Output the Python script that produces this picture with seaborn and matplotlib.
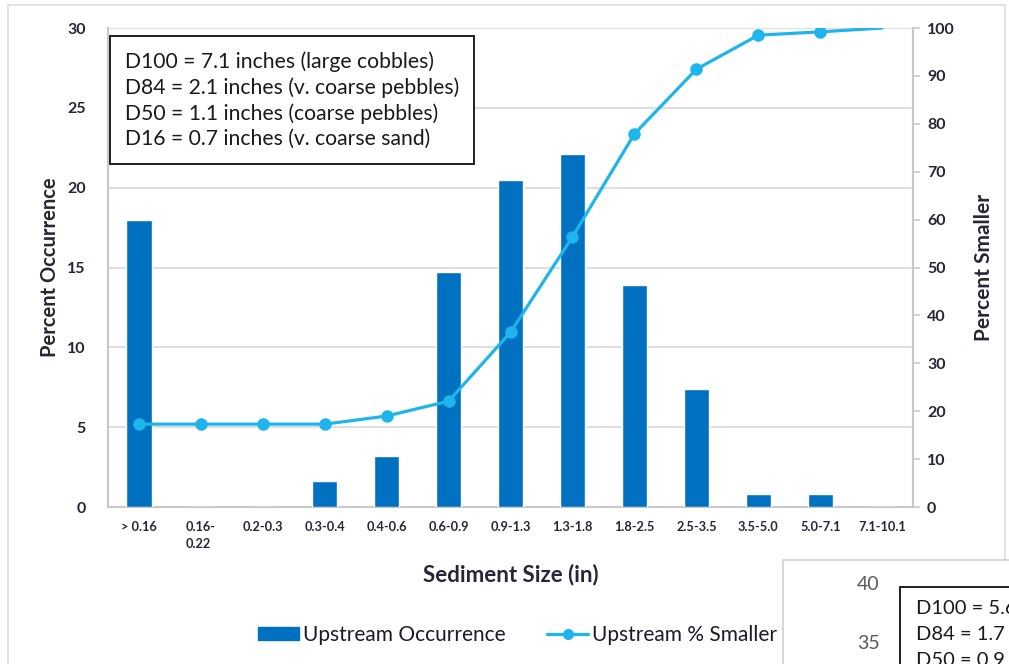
import matplotlib
matplotlib.use("Agg")
import matplotlib.pyplot as plt
import seaborn as sns
import pandas as pd
import numpy as np
from matplotlib.patches import Rectangle, Patch
from matplotlib.lines import Line2D

categories = ["> 0.16", "0.16-\n0.22", "0.2-0.3", "0.3-0.4", "0.4-0.6", "0.6-0.9",
              "0.9-1.3", "1.3-1.8", "1.8-2.5", "2.5-3.5", "3.5-5.0", "5.0-7.1", "7.1-10.1"]
occurrence = [18.0, 0, 0, 1.6, 3.2, 14.7, 20.5, 22.1, 13.9, 7.4, 0.8, 0.8, 0]
pct_smaller = [17.3, 17.3, 17.3, 17.3, 19.0, 22.1, 36.5, 56.4, 77.9, 91.4, 98.5, 99.2, 100]
left_ticks = [0, 5, 10, 15, 20, 25, 30]
right_ticks = [0, 10, 20, 30, 40, 50, 60, 70, 80, 90, 100]
stats_lines = ["D100 = 7.1 inches (large cobbles)",
               "D84 = 2.1 inches (v. coarse pebbles)",
               "D50 = 1.1 inches (coarse pebbles)",
               "D16 = 0.7 inches (v. coarse sand)"]
inset_ticks = ["40", "35"]
inset_lines = ["D100 = 5.6", "D84 = 1.7", "D50 = 0.9"]

sns.set_style("white")
plt.rcParams['font.family'] = ['Lato', 'DejaVu Sans']

BAR = "#0070C0"
LINE = "#1EB4EE"
GRID = "#D9D9D9"
TXT = "#262636"

df = pd.DataFrame({"cat": categories, "occ": occurrence, "pct": pct_smaller})
x = np.arange(len(categories))

fig = plt.figure(figsize=(10.09, 6.64), dpi=100)
fig.patches.append(Rectangle((0.008, -0.01), 0.988, 1.002, transform=fig.transFigure,
                             fill=False, edgecolor="#DDDDDD", lw=1.2))
ax = fig.add_axes([0.107, 0.2364, 0.798, 0.7214])

sns.barplot(data=df, x="cat", y="occ", color=BAR, width=0.41, ax=ax,
            saturation=1, zorder=3)
ax.set_ylim(0, 30)
ax.set_xlim(-0.5, len(categories) - 0.5)
ax.set_yticks(left_ticks)
ax.yaxis.grid(True, color=GRID, lw=1.2, zorder=0)
ax.set_axisbelow(True)
for s in ["top", "right"]:
    ax.spines[s].set_visible(False)
for s in ["left", "bottom"]:
    ax.spines[s].set_color("#C8C8C8")
    ax.spines[s].set_linewidth(1.5)
ax.tick_params(axis="y", length=0, pad=16, labelsize=11.5, labelcolor=TXT)
ax.tick_params(axis="x", length=0, pad=10, labelsize=9.2, labelcolor=TXT)
for lab in ax.get_yticklabels():
    lab.set_fontweight("bold")
for lab in ax.get_xticklabels():
    lab.set_ha("center")
    lab.set_multialignment("left")
    lab.set_fontweight("bold")
    lab.set_linespacing(1.5)
ax.set_xlabel("Sediment Size (in)", fontsize=16, fontweight="bold", color=TXT, labelpad=10)
ax.set_ylabel("Percent Occurrence", fontsize=14.5, fontweight="bold", color=TXT, labelpad=5)

ax2 = ax.twinx()
sns.lineplot(x=x, y=df["pct"], ax=ax2, color=LINE, lw=2.3, marker="o", markersize=9,
             markeredgewidth=0, markevery=list(range(len(x) - 1)), zorder=4)
ax2.set_ylim(0, 100)
ax2.set_yticks(right_ticks)
for s in ["top", "left", "bottom"]:
    ax2.spines[s].set_visible(False)
ax2.spines["right"].set_color("#C8C8C8")
ax2.spines["right"].set_linewidth(1.5)
ax2.tick_params(axis="y", length=5, width=1.2, color="#C8C8C8", pad=5,
                labelsize=11.5, labelcolor=TXT)
for lab in ax2.get_yticklabels():
    lab.set_fontweight("bold")
ax2.set_ylabel("Percent Smaller", fontsize=15, fontweight="bold", color=TXT, labelpad=14)

# stats box
ax.text(0.021, 0.952, "\n".join(stats_lines), transform=ax.transAxes, ha="left", va="top",
        fontsize=15.2, color="#1a1a1a", linespacing=1.33, zorder=6,
        bbox=dict(boxstyle="square,pad=0.7", facecolor="white", edgecolor="#202020", lw=1.4))

handles = [Patch(facecolor=BAR, edgecolor=BAR),
           Line2D([0], [0], color=LINE, lw=2.3, marker="o", markersize=8, markeredgewidth=0)]
fig.legend(handles, ["Upstream Occurrence", "Upstream % Smaller"], loc="center",
           bbox_to_anchor=(0.513, 0.044), ncol=2, frameon=False, fontsize=15,
           handlelength=1.95, handleheight=0.65, columnspacing=2.0, handletextpad=0.2,
           labelcolor="#1a1a2a")

# partially visible second chart at bottom right
fig.patches.append(Rectangle((0.776, -0.02), 0.3, 0.177, transform=fig.transFigure,
                             facecolor="white", edgecolor="#D0D0D0", lw=1.2, zorder=5))
fig.text(0.872, 0.119, inset_ticks[0], fontsize=14, color="#595959", ha="right", va="center", zorder=6)
fig.text(0.872, 0.031, inset_ticks[1], fontsize=14, color="#595959", ha="right", va="center", zorder=6)
fig.patches.append(Rectangle((0.892, -0.05), 0.2, 0.166, transform=fig.transFigure,
                             facecolor="white", edgecolor="#202020", lw=1.4, zorder=6))
for i, t in enumerate(inset_lines):
    fig.text(0.908, 0.084 - i * 0.039, t, fontsize=14.5, color="#1a1a1a", ha="left",
             va="center", zorder=7)

fig.savefig("out.png", dpi=100)
